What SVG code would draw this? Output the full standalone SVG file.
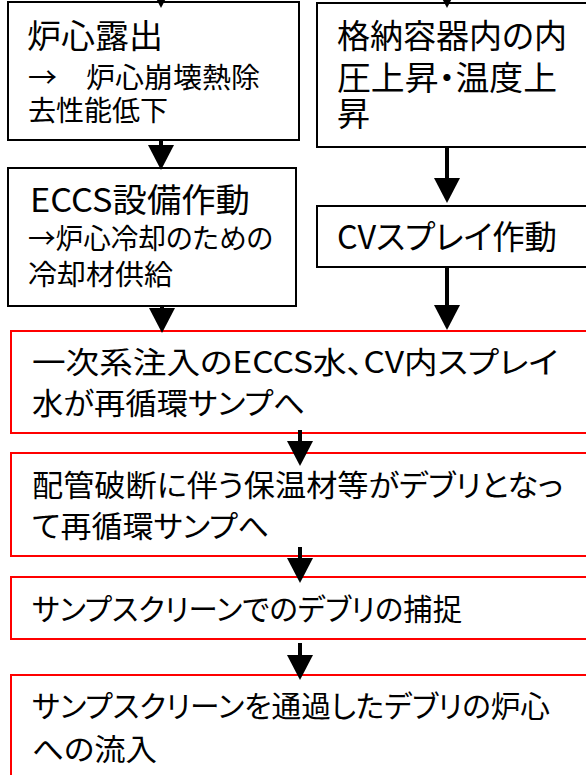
<svg xmlns="http://www.w3.org/2000/svg" width="586" height="775" viewBox="0 0 586 775">
<style>
  .bk { fill:#ffffff; stroke:#000000; stroke-width:2; }
  .rd { fill:#ffffff; stroke:#ff0000; stroke-width:2; }
  text { font-family:"Noto Sans CJK JP","Noto Sans",sans-serif; fill:#000000; font-feature-settings:"palt"; }
  .t { font-size:33px; }
  .s { font-size:28px; }
  .r { font-size:30px; }
  .ar { stroke:#000000; stroke-width:4; fill:none; marker-end:url(#ah); }
</style>
<defs>
  <marker id="ah" markerUnits="userSpaceOnUse" markerWidth="26" markerHeight="25" viewBox="0 0 26 25" refX="13" refY="25" orient="auto-start-reverse">
    <path d="M0,0 L26,0 L13,25 Z" fill="#000000" transform="rotate(-90 13 12.5) translate(0,0)"/>
  </marker>
  <path id="head" d="M-13,-25 L13,-25 L0,0 Z" fill="#000000"/>
</defs>
<rect width="586" height="775" fill="#ffffff"/>

<g id="node-rosin-roshutsu">
  <rect class="bk" x="8" y="2" width="291" height="138"/>
  <text class="t" x="27" y="48" textLength="136" lengthAdjust="spacingAndGlyphs">炉心露出</text>
  <text class="s" x="28" y="88" textLength="232" lengthAdjust="spacingAndGlyphs">→　炉心崩壊熱除</text>
  <text class="s" x="28" y="121" textLength="140" lengthAdjust="spacingAndGlyphs">去性能低下</text>
</g>

<g id="node-kakuno">
  <rect class="bk" x="317" y="3" width="280" height="144"/>
  <text class="t" x="337" y="48" textLength="230" lengthAdjust="spacingAndGlyphs">格納容器内の内</text>
  <text class="t" x="337" y="90" textLength="220" lengthAdjust="spacingAndGlyphs">圧上昇・温度上</text>
  <text class="t" x="337" y="126" textLength="33" lengthAdjust="spacingAndGlyphs">昇</text>
</g>

<g id="node-eccs">
  <rect class="bk" x="8" y="168" width="288" height="138"/>
  <text class="t" x="30" y="212" textLength="220" lengthAdjust="spacingAndGlyphs">ECCS設備作動</text>
  <text class="s" x="28" y="249" textLength="245" lengthAdjust="spacingAndGlyphs">→炉心冷却のための</text>
  <text class="s" x="28" y="285" textLength="145" lengthAdjust="spacingAndGlyphs">冷却材供給</text>
</g>

<g id="node-cv-spray">
  <rect class="bk" x="317" y="206" width="280" height="61"/>
  <text class="t" x="337" y="249" textLength="220" lengthAdjust="spacingAndGlyphs">CVスプレイ作動</text>
</g>

<g id="node-sump-water">
  <rect class="rd" x="11" y="331" width="586" height="102"/>
  <text class="r" x="32" y="373" textLength="526" lengthAdjust="spacingAndGlyphs">一次系注入のECCS水、CV内スプレイ</text>
  <text class="r" x="32" y="414" textLength="273" lengthAdjust="spacingAndGlyphs">水が再循環サンプへ</text>
</g>

<g id="node-debris">
  <rect class="rd" x="11" y="453" width="586" height="103"/>
  <text class="r" x="32" y="496" textLength="531" lengthAdjust="spacingAndGlyphs">配管破断に伴う保温材等がデブリとなっ</text>
  <text class="r" x="32" y="537" textLength="237" lengthAdjust="spacingAndGlyphs">て再循環サンプへ</text>
</g>

<g id="node-capture">
  <rect class="rd" x="11" y="577" width="586" height="62"/>
  <text class="r" x="32" y="620" textLength="430" lengthAdjust="spacingAndGlyphs">サンプスクリーンでのデブリの捕捉</text>
</g>

<g id="node-inflow">
  <rect class="rd" x="11" y="675" width="586" height="110"/>
  <text class="r" x="32" y="717" textLength="518" lengthAdjust="spacingAndGlyphs">サンプスクリーンを通過したデブリの炉心</text>
  <text class="r" x="32" y="760" textLength="125" lengthAdjust="spacingAndGlyphs">への流入</text>
</g>

<g id="connectors">
  <use href="#head" x="161" y="8"/>
  <use href="#head" x="447" y="8"/>

  <line x1="161" y1="140" x2="161" y2="148" stroke="#000" stroke-width="4"/>
  <use href="#head" x="161" y="170"/>

  <line x1="447" y1="147" x2="447" y2="180" stroke="#000" stroke-width="4"/>
  <use href="#head" x="447" y="203"/>

  <line x1="162" y1="306" x2="162" y2="311" stroke="#000" stroke-width="4"/>
  <use href="#head" x="162" y="333"/>

  <line x1="447" y1="267" x2="447" y2="306" stroke="#000" stroke-width="4"/>
  <use href="#head" x="447" y="330"/>

  <line x1="300" y1="430" x2="300" y2="443" stroke="#000" stroke-width="4"/>
  <use href="#head" x="300" y="466"/>

  <line x1="300" y1="547" x2="300" y2="560" stroke="#000" stroke-width="4"/>
  <use href="#head" x="300" y="583"/>

  <line x1="300" y1="643" x2="300" y2="657" stroke="#000" stroke-width="4"/>
  <use href="#head" x="300" y="680"/>
</g>
</svg>
